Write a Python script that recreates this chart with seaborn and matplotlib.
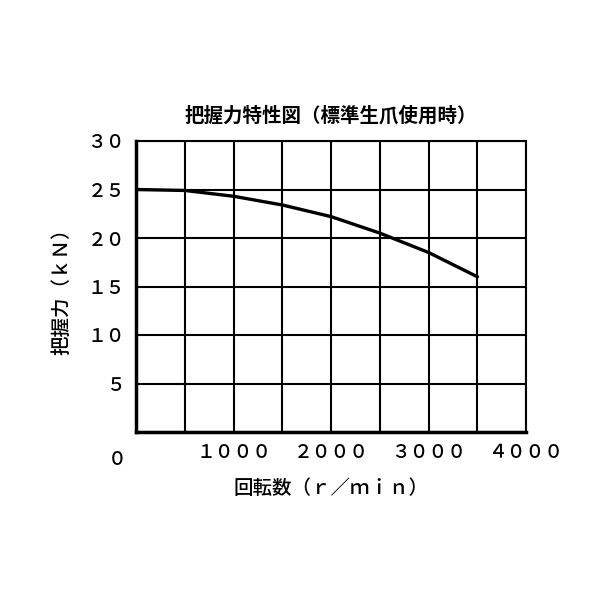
import matplotlib
matplotlib.use("Agg")
import matplotlib.pyplot as plt
import seaborn as sns
import pandas as pd

# curve
rpm = [0, 500, 1000, 1500, 2000, 2500, 3000, 3500]
force = [25.0, 24.9, 24.3, 23.4, 22.2, 20.5, 18.5, 16.0]

x_ticks = [0, 500, 1000, 1500, 2000, 2500, 3000, 3500, 4000]
x_labels = ["", "", "１０００", "", "２０００", "", "３０００", "", "４０００"]
y_ticks = [0, 5, 10, 15, 20, 25, 30]
y_labels = ["", "５", "１０", "１５", "２０", "２５", "３０"]

title = "把握力特性図（標準生爪使用時）"
xlabel = "回転数（ｒ／ｍｉｎ）"
ylabel = "把握力（ｋＮ）"

sns.set_style("white")
plt.rcParams["font.family"] = ["Noto Sans CJK JP", "DejaVu Sans"]
plt.rcParams["text.color"] = "black"
plt.rcParams["axes.labelcolor"] = "black"
plt.rcParams["xtick.color"] = "black"
plt.rcParams["ytick.color"] = "black"

df = pd.DataFrame({"rpm": rpm, "force": force})

fig = plt.figure(figsize=(6, 6), dpi=100)
ax = fig.add_axes([0.227, 0.28, 0.65, 0.485])

sns.lineplot(data=df, x="rpm", y="force", color="black", linewidth=2.4, ax=ax)

ax.set_xlim(0, 4000)
ax.set_ylim(0, 30)
ax.set_xticks(x_ticks)
ax.set_xticklabels(x_labels, fontsize=13.5, fontweight="medium")
ax.set_yticks(y_ticks)
ax.set_yticklabels(y_labels, fontsize=13.5, fontweight="medium")
ax.tick_params(length=0, pad=8)
ax.grid(True, color="black", linewidth=1.5)
ax.set_axisbelow(True)

for side in ["top", "right"]:
    ax.spines[side].set_linewidth(1.5)
    ax.spines[side].set_color("black")
for side in ["left", "bottom"]:
    ax.spines[side].set_linewidth(2.5)
    ax.spines[side].set_color("black")

ax.annotate("０", xy=(0, 0), xytext=(-14, -20), textcoords="offset points",
            ha="center", va="center", fontsize=13.5, fontweight="medium")

ax.set_title(title, fontsize=14, fontweight="bold", pad=14)
ax.set_xlabel(xlabel, fontsize=14, fontweight="medium", labelpad=12)
ax.set_ylabel(ylabel, fontsize=14, fontweight="medium", labelpad=12)

fig.savefig("out.png", dpi=100)
